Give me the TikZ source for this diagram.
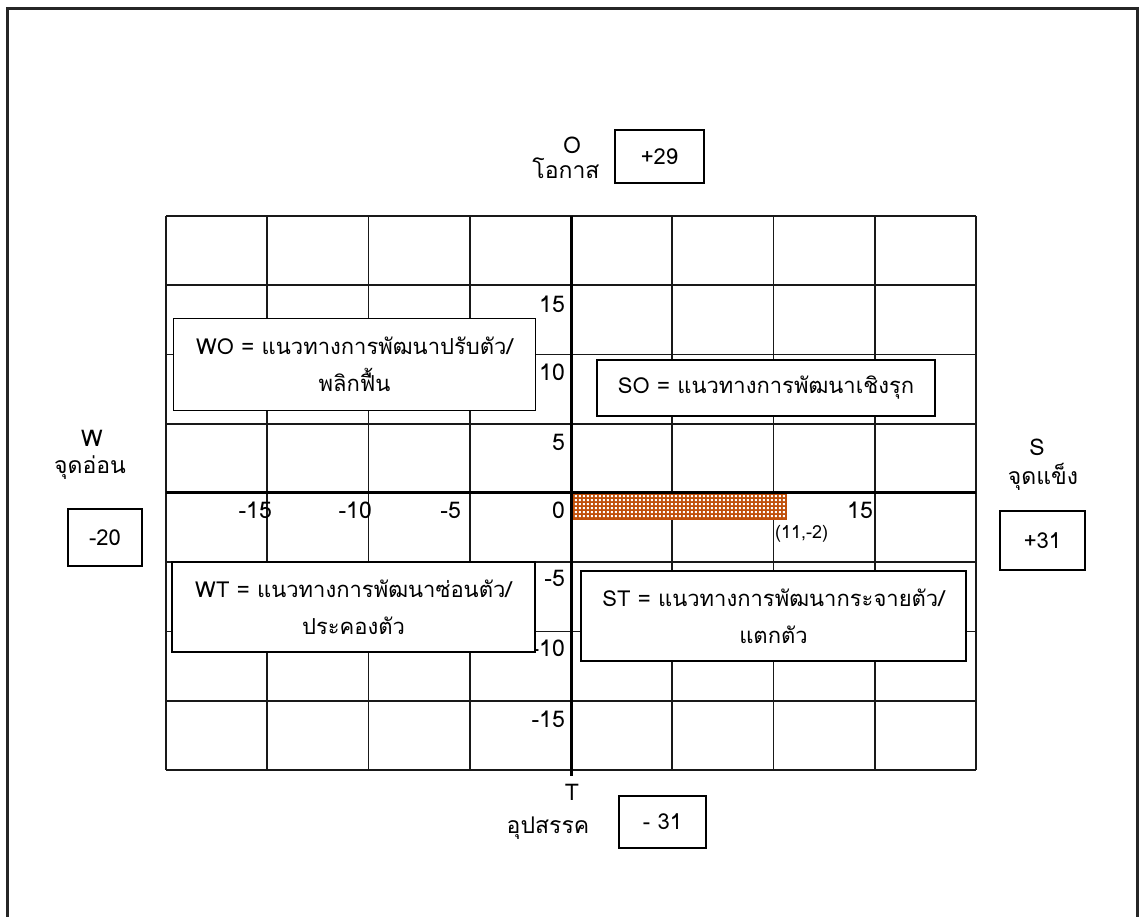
\documentclass[tikz,border=0pt]{standalone}
\usepackage{fontspec}
\setmainfont[Script=Thai]{Loma}
\usetikzlibrary{patterns}
\definecolor{barc}{RGB}{192,80,10}
\pgfdeclarepatternformonly{bardots}{\pgfpointorigin}{\pgfpoint{3.8pt}{3.8pt}}{\pgfpoint{3.8pt}{3.8pt}}{%
  \pgfpathrectangle{\pgfpoint{0.8pt}{0.8pt}}{\pgfpoint{2.2pt}{2.2pt}}\pgfusepath{fill}}
\begin{document}
\begin{tikzpicture}[x=1pt,y=-1pt,
 gridline/.style={line width=1.7pt, draw=black!90},
 axisline/.style={line width=3pt, draw=black},
 box/.style={draw, line width=1.5pt, fill=white, align=center, inner sep=0pt, font=\fontsize{22}{37}\selectfont},
 lbl/.style={font=\fontsize{23}{26}\selectfont, inner sep=0pt},
 num/.style={font=\fontsize{23}{26}\selectfont, inner sep=0pt, anchor=east},
]
\useasboundingbox (0,0) rectangle (1146,917);
\begin{scope}
\clip (0,0) rectangle (1146,917);
\draw[line width=3pt, draw=black!85] (7,940) -- (7,9) -- (1137,9) -- (1137,940);
\end{scope}
% grid
\foreach \i in {0,...,8} {
  \draw[gridline] ({166+101.25*\i},216) -- ({166+101.25*\i},770);
  \draw[gridline] (166,{216+69.25*\i}) -- (976,{216+69.25*\i});
}
% bar
\fill[barc] (572,493.5) rectangle (786,519);
\fill[pattern=bardots, pattern color=white] (572,493.5) rectangle (786,519);
\draw[barc, line width=1.2pt] (572,493.5) rectangle (786,519);
% axes
\coordinate (yt) at (571,216);
\coordinate (yb) at (571,776);
\coordinate (xl) at (166,492);
\coordinate (xr) at (976,492);
\draw[axisline] (yt) -- (yb);
\draw[axisline] (xl) -- (xr);
% axis numbers
\node[num] (n15) at (565,304) {15};
\node[num] (n10) at (565,372) {10};
\node[num] (n5) at (565,442) {5};
\node[num] (n0) at (565,510) {0};
\node[num] (nm5) at (565,578) {-5};
\node[num] (nm10) at (565,648) {-10};
\node[num] (nm15) at (565,719) {-15};
\node[num] (xm15) at (272,510) {-15};
\node[num] (xm10) at (372,510) {-10};
\node[num] (xm5) at (461,510) {-5};
\node[num] (x15) at (873,510) {15};
\node[font=\fontsize{18}{20}\selectfont, inner sep=0pt, anchor=west] (pt) at (775,534) {(11,-2)};
% quadrant boxes
\node[box, minimum width=362, minimum height=92] (wo) at (354.5,364.5) {WO = แนวทางการพัฒนาปรับตัว/\\พลิกฟื้น};
\node[box, minimum width=338, minimum height=56] (so) at (766,388) {SO = แนวทางการพัฒนาเชิงรุก};
\node[box, minimum width=363, minimum height=90] (wt) at (353.5,607) {WT = แนวทางการพัฒนาซ่อนตัว/\\ประคองตัว};
\node[box, minimum width=385, minimum height=90] (st) at (773.5,616) {ST = แนวทางการพัฒนากระจายตัว/\\แตกตัว};
% outer labels
\node[lbl] (O) at (572,145) {O};
\node[lbl] (oth) at (566,168) {โอกาส};
\node[box, minimum width=89, minimum height=53] (ov) at (659.5,156.5) {+29};
\node[lbl] (W) at (92,438) {W};
\node[lbl] (wth) at (90,468) {จุดอ่อน};
\node[box, minimum width=74, minimum height=57] (wv) at (105,537.5) {-20};
\node[lbl] (S) at (1037,447) {S};
\node[lbl] (sth) at (1043,477) {จุดแข็ง};
\node[box, minimum width=85, minimum height=59] (sv) at (1042.5,540.5) {+31};
\node[lbl] (T) at (572,792) {T};
\node[lbl] (tth) at (548,828) {อุปสรรค};
\node[box, minimum width=87, minimum height=52] (tv) at (662.5,822) {- 31};
\end{tikzpicture}
\end{document}
